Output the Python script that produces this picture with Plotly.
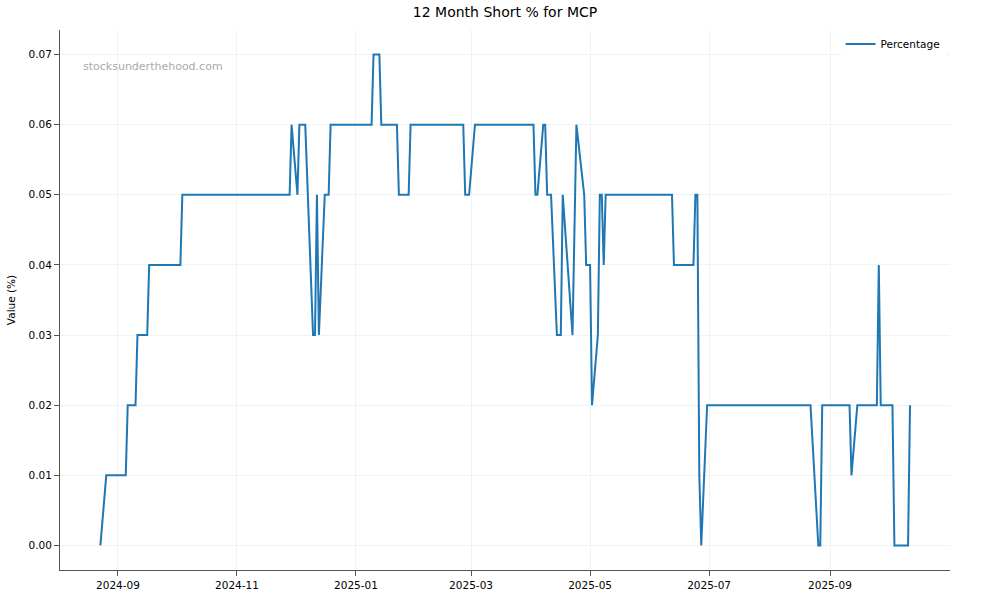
import plotly.graph_objects as go

dates = [
    "2024-08-23", "2024-08-26", "2024-09-05", "2024-09-06", "2024-09-10", "2024-09-11",
    "2024-09-16", "2024-09-17", "2024-10-03", "2024-10-04", "2024-11-28", "2024-11-29",
    "2024-12-02", "2024-12-03", "2024-12-06", "2024-12-10", "2024-12-11", "2024-12-12",
    "2024-12-13", "2024-12-16", "2024-12-18", "2024-12-19", "2025-01-09", "2025-01-10",
    "2025-01-13", "2025-01-14", "2025-01-22", "2025-01-23", "2025-01-28", "2025-01-29",
    "2025-02-25", "2025-02-26", "2025-02-28", "2025-03-03", "2025-04-02", "2025-04-03",
    "2025-04-04", "2025-04-07", "2025-04-08", "2025-04-09", "2025-04-11", "2025-04-14",
    "2025-04-16", "2025-04-17", "2025-04-22", "2025-04-24", "2025-04-28", "2025-04-29",
    "2025-05-01", "2025-05-02", "2025-05-05", "2025-05-06", "2025-05-07", "2025-05-08",
    "2025-05-09", "2025-06-12", "2025-06-13", "2025-06-23", "2025-06-24", "2025-06-25",
    "2025-06-26", "2025-06-27", "2025-06-30", "2025-08-22", "2025-08-26", "2025-08-27",
    "2025-08-28", "2025-09-11", "2025-09-12", "2025-09-15", "2025-09-25", "2025-09-26",
    "2025-09-27", "2025-10-03", "2025-10-04", "2025-10-11", "2025-10-12",
]
values = [
    0.00, 0.01, 0.01, 0.02, 0.02, 0.03,
    0.03, 0.04, 0.04, 0.05, 0.05, 0.06,
    0.05, 0.06, 0.06, 0.03, 0.03, 0.05,
    0.03, 0.05, 0.05, 0.06, 0.06, 0.07,
    0.07, 0.06, 0.06, 0.05, 0.05, 0.06,
    0.06, 0.05, 0.05, 0.06, 0.06, 0.05,
    0.05, 0.06, 0.06, 0.05, 0.05, 0.03,
    0.03, 0.05, 0.03, 0.06, 0.05, 0.04,
    0.04, 0.02, 0.03, 0.05, 0.05, 0.04,
    0.05, 0.05, 0.04, 0.04, 0.05, 0.05,
    0.01, 0.00, 0.02, 0.02, 0.00, 0.00,
    0.02, 0.02, 0.01, 0.02, 0.02, 0.04,
    0.02, 0.02, 0.00, 0.00, 0.02,
]
series_name = "Percentage"
title_text = "12 Month Short % for MCP"
y_label = "Value (%)"
watermark = "stocksunderthehood.com"
y_ticks = [0.00, 0.01, 0.02, 0.03, 0.04, 0.05, 0.06, 0.07]
x_ticks = ["2024-09-01", "2024-11-01", "2025-01-01", "2025-03-01",
           "2025-05-01", "2025-07-01", "2025-09-01"]
x_tick_labels = ["2024-09", "2024-11", "2025-01", "2025-03",
                 "2025-05", "2025-07", "2025-09"]

font_family = "DejaVu Sans"
axis_color = "#555555"
grid_color = "#f2f2f2"

fig = go.Figure()
fig.add_trace(go.Scatter(
    x=dates, y=values, mode="lines", name=series_name,
    line=dict(color="#1f77b4", width=2),
))

fig.update_layout(
    width=1000, height=600,
    margin=dict(l=60, r=50, t=30, b=30),
    paper_bgcolor="white", plot_bgcolor="white",
    font=dict(family=font_family, size=10.5, color="#000000"),
    title=dict(text=title_text, x=0.505, xanchor="center", y=0.98, yanchor="middle",
               font=dict(size=14, color="#000000")),
    showlegend=True,
    legend=dict(x=0.995, xanchor="right", y=1.001, yanchor="top",
                bgcolor="rgba(255,255,255,0.8)", borderwidth=0,
                font=dict(size=10.5)),
    xaxis=dict(
        type="date",
        range=["2024-08-02 07:00", "2025-11-01 12:00"],
        tickvals=x_ticks, ticktext=x_tick_labels,
        showline=True, linecolor=axis_color, linewidth=1,
        ticks="outside", ticklen=5, tickcolor=axis_color,
        showgrid=True, gridcolor=grid_color, gridwidth=1,
        zeroline=False, mirror=False, automargin=False,
    ),
    yaxis=dict(
        range=[-0.0035, 0.0735],
        tickvals=y_ticks, tickformat=".2f",
        showline=True, linecolor=axis_color, linewidth=1,
        ticks="outside", ticklen=5, tickcolor=axis_color,
        showgrid=True, gridcolor=grid_color, gridwidth=1,
        zeroline=False, mirror=False, automargin=False,
        title=dict(text=y_label, standoff=10, font=dict(size=10.5)),
    ),
    annotations=[dict(
        text=watermark, xref="paper", yref="paper", x=0.0236, y=0.933,
        xanchor="left", yanchor="middle", showarrow=False,
        font=dict(size=11, color="#aaaaaa"),
    )],
)

fig.write_html("out.html", config={"displayModeBar": False},
               post_script="document.body.style.margin='0';")
